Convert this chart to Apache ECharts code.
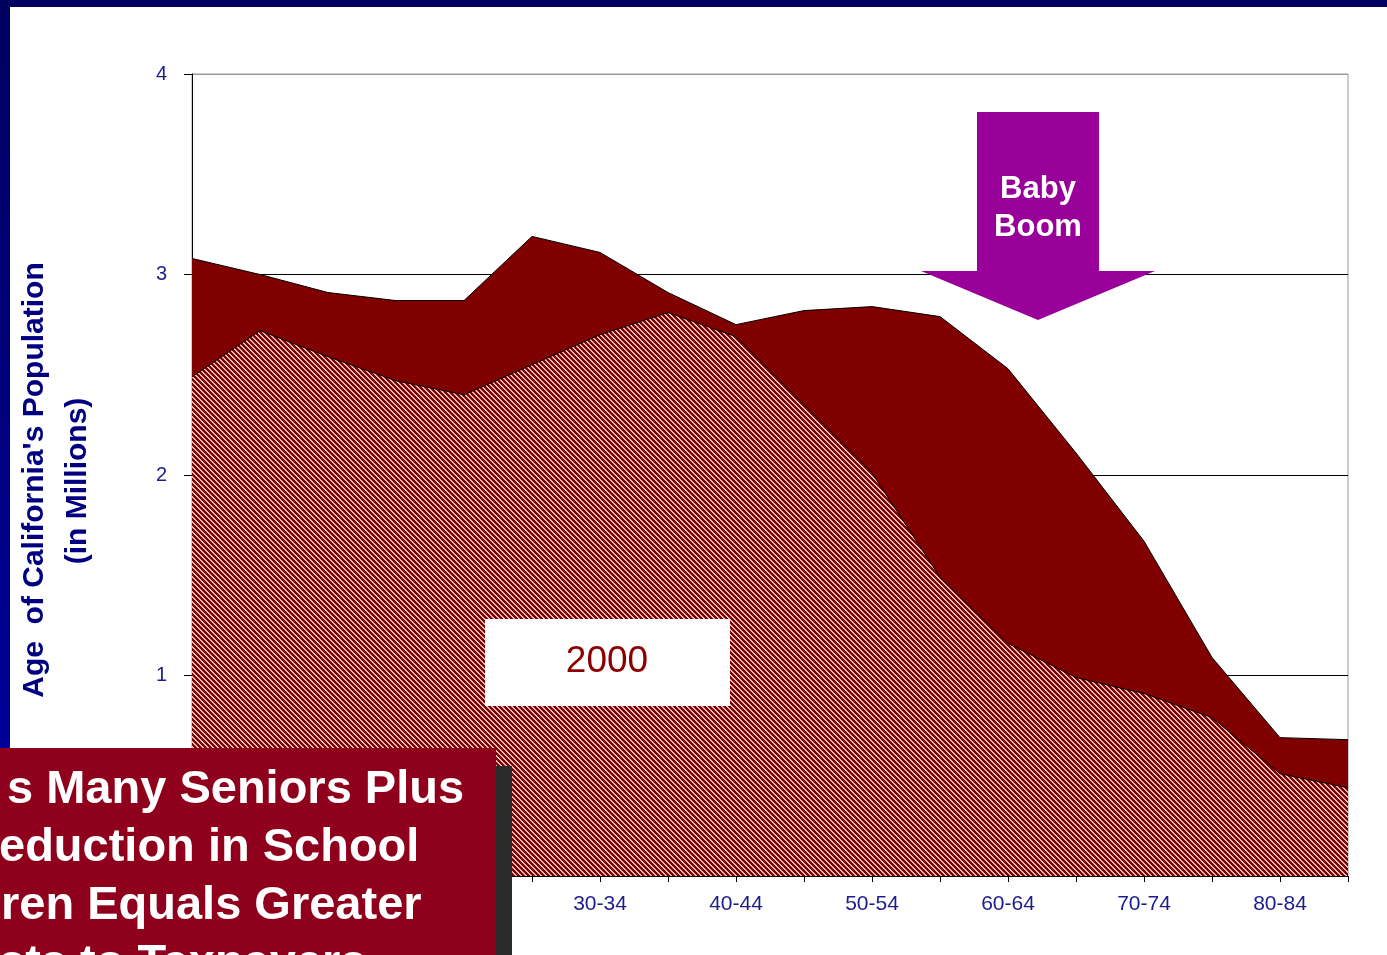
<!DOCTYPE html>
<html>
<head>
<meta charset="utf-8">
<script src="https://cdn.jsdelivr.net/npm/echarts@6/dist/echarts.min.js"></script>
<style>
  html, body { margin: 0; padding: 0; background: #fff; }
  #chart { width: 1387px; height: 955px; }
</style>
</head>
<body>
<div id="chart"></div>
<script>
// age groups, every other label is shown
let ageGroups = ['0-4', '5-9', '10-14', '15-19', '20-24', '25-29', '30-34', '35-39', '40-44',
  '45-49', '50-54', '55-59', '60-64', '65-69', '70-74', '75-79', '80-84', '85+'];
// population in millions
let pop2000 = [2.49, 2.72, 2.59, 2.47, 2.40, 2.55, 2.70, 2.81, 2.69, 2.35, 2.01, 1.49, 1.16, 0.99, 0.91, 0.79, 0.51, 0.44];
let popLater = [3.08, 3.00, 2.91, 2.87, 2.87, 3.19, 3.11, 2.91, 2.75, 2.82, 2.84, 2.79, 2.53, 2.11, 1.67, 1.09, 0.69, 0.68];
let yTicks = [0, 1, 2, 3, 4];

let navy = '#1c1c8c';
let font = 'Liberation Sans, Arial, sans-serif';

// diagonal hatch for the 2000 area
function hatch() {
  let c = document.createElement('canvas');
  c.width = 5; c.height = 5;
  let ctx = c.getContext('2d');
  ctx.fillStyle = '#800000';
  ctx.fillRect(0, 0, 5, 5);
  ctx.fillStyle = '#e4b8b8';
  for (let y = 0; y < 5; y++) {
    for (let x = 0; x < 5; x++) {
      if (((x - y) % 5 + 5) % 5 < 2) ctx.fillRect(x, y, 1, 1);
    }
  }
  return c;
}

let myChart = echarts.init(document.getElementById('chart'));
myChart.setOption({
  animation: false,
  backgroundColor: '#fff',
  grid: { left: 192, right: 39, top: 74, bottom: 79, show: true, borderColor: '#999', borderWidth: 1 },
  xAxis: {
    type: 'category',
    data: ageGroups,
    boundaryGap: false,
    axisLine: { lineStyle: { color: '#000', width: 1 } },
    axisTick: { interval: 0, length: 6, lineStyle: { color: '#000' } },
    axisLabel: { interval: 1, color: navy, fontSize: 21, fontFamily: font, margin: 18 },
    splitLine: { show: false }
  },
  yAxis: {
    type: 'value',
    min: yTicks[0],
    max: yTicks[yTicks.length - 1],
    interval: 1,
    axisLine: { show: true, lineStyle: { color: '#000', width: 1 } },
    axisTick: { show: true, length: 8, lineStyle: { color: '#000' } },
    axisLabel: { color: navy, fontSize: 20, fontFamily: font, margin: 25 },
    splitLine: { lineStyle: { color: ['#000', '#000', '#000', '#000', '#999'], width: 1 } }
  },
  series: [
    {
      name: 'later',
      type: 'line',
      data: popLater,
      symbol: 'none',
      lineStyle: { color: '#000', width: 1 },
      areaStyle: { color: '#800000', opacity: 1 },
      z: 2
    },
    {
      name: '2000',
      type: 'line',
      data: pop2000,
      symbol: 'none',
      lineStyle: { color: '#000', width: 1 },
      areaStyle: { color: { image: hatch(), repeat: 'repeat' }, opacity: 1 },
      z: 3
    }
  ],
  graphic: [
    // frame
    { type: 'rect', shape: { x: 0, y: 0, width: 1387, height: 7 }, style: { fill: '#000060' }, z: 40 },
    {
      type: 'rect', shape: { x: 0, y: 0, width: 10, height: 955 }, z: 40,
      style: { fill: new echarts.graphic.LinearGradient(0, 0, 0, 1, [
        { offset: 0, color: '#000060' }, { offset: 1, color: '#0000a8' }]) }
    },
    // axis name
    {
      type: 'text', x: 35, y: 480, rotation: Math.PI / 2, z: 50,
      style: { text: "Age  of California's Population", fill: '#000080', font: 'bold 30px ' + font,
        align: 'center', verticalAlign: 'middle' }
    },
    {
      type: 'text', x: 78, y: 481, rotation: Math.PI / 2, z: 50,
      style: { text: '(in Millions)', fill: '#000080', font: 'bold 30px ' + font,
        align: 'center', verticalAlign: 'middle' }
    },
    // 2000 label
    { type: 'rect', shape: { x: 485, y: 619, width: 245, height: 87 }, style: { fill: '#fff' }, z: 50 },
    {
      type: 'text', x: 607, y: 662, z: 51,
      style: { text: '2000', fill: '#8b0000', font: '37px ' + font, align: 'center', verticalAlign: 'middle' }
    },
    // baby boom arrow
    {
      type: 'polygon', z: 50,
      shape: { points: [[977, 112], [1099, 112], [1099, 271], [1155, 271], [1038, 320], [921, 271], [977, 271]] },
      style: { fill: '#990099' }
    },
    {
      type: 'text', x: 1038, y: 208, z: 51,
      style: { text: 'Baby\nBoom', fill: '#fff', font: 'bold 31px ' + font, lineHeight: 38,
        align: 'center', verticalAlign: 'middle' }
    },
    // caption box
    { type: 'rect', shape: { x: 496, y: 766, width: 16, height: 189 }, style: { fill: '#2b2b2b' }, z: 60 },
    { type: 'rect', shape: { x: 0, y: 748, width: 496, height: 207 }, style: { fill: '#8e001b' }, z: 61 },
    { type: 'text', x: 7, y: 790, z: 62, style: { text: 's Many Seniors Plus', fill: '#fff', font: 'bold 47px ' + font, verticalAlign: 'middle' } },
    { type: 'text', x: -1, y: 848, z: 62, style: { text: 'eduction in School', fill: '#fff', font: 'bold 47px ' + font, verticalAlign: 'middle' } },
    { type: 'text', x: 1, y: 906, z: 62, style: { text: 'ren Equals Greater', fill: '#fff', font: 'bold 47px ' + font, verticalAlign: 'middle' } },
    { type: 'text', x: -1, y: 964, z: 62, style: { text: 'sts to Taxpayers', fill: '#fff', font: 'bold 47px ' + font, verticalAlign: 'middle' } }
  ]
});
</script>
</body>
</html>
